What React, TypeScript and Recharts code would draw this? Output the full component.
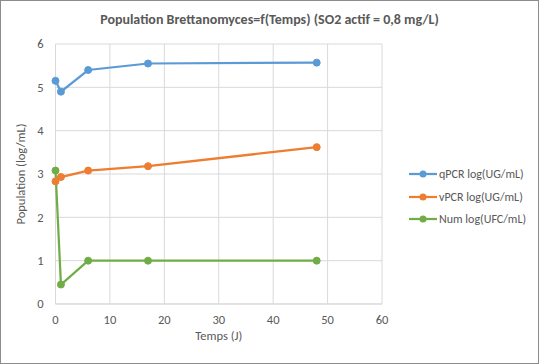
import { LineChart, Line, XAxis, YAxis, CartesianGrid } from 'recharts';

const FONT = "Calibri, Carlito, 'Open Sans', sans-serif";
const TEXT = '#595959';

const temps = [0, 1, 6, 17, 48];
const qpcr = [5.15, 4.9, 5.4, 5.55, 5.57];
const vpcr = [2.83, 2.93, 3.08, 3.18, 3.62];
const num = [3.08, 0.45, 1.0, 1.0, 1.0];

const xTicks = [0, 10, 20, 30, 40, 50, 60];
const yTicks = [0, 1, 2, 3, 4, 5, 6];

const series = [
  { name: 'qPCR log(UG/mL)', color: '#5B9BD5', values: qpcr },
  { name: 'vPCR log(UG/mL)', color: '#ED7D31', values: vpcr },
  { name: 'Num log(UFC/mL)', color: '#70AD47', values: num },
];

const toPoints = (values: number[]) => temps.map((t, i) => ({ x: t, y: values[i] }));

function LegendBox() {
  return (
    <div style={{ position: 'absolute', left: 408, top: 162, fontFamily: FONT, fontSize: 12, color: TEXT }}>
      {series.map(s => (
        <div key={s.name} style={{ display: 'flex', alignItems: 'center', height: 22.5 }}>
          <svg width={30} height={10}>
            <line x1={0} y1={5} x2={28} y2={5} stroke={s.color} strokeWidth={2.25} />
            <circle cx={14} cy={5} r={3.5} fill={s.color} />
          </svg>
          <span>{s.name}</span>
        </div>
      ))}
    </div>
  );
}

export default function App() {
  return (
    <div style={{ position: 'absolute', left: 0, top: 0, width: 539, height: 364, boxSizing: 'border-box', border: '1px solid #8c8c8c', background: '#fff' }}>
      <div style={{ position: 'absolute', top: 10, width: '100%', textAlign: 'center', fontFamily: FONT, fontSize: 14, fontWeight: 'bold', color: TEXT }}>
        Population Brettanomyces=f(Temps) (SO2 actif = 0,8 mg/L)
      </div>
      <LineChart width={537} height={362} margin={{ top: 43, right: 156, left: 9.5, bottom: 9 }}>
        <CartesianGrid stroke="#D9D9D9" />
        <XAxis
          type="number"
          dataKey="x"
          domain={[0, 60]}
          ticks={xTicks}
          tickLine={false}
          axisLine={{ stroke: '#D9D9D9' }}
          tick={{ fill: TEXT, fontSize: 12.5, fontFamily: FONT }}
          tickMargin={5}
          height={50}
          label={{ value: 'Temps (J)', position: 'insideBottom', offset: 14, fill: TEXT, fontSize: 12.5, fontFamily: FONT }}
        />
        <YAxis
          type="number"
          domain={[0, 6]}
          ticks={yTicks}
          tickLine={false}
          axisLine={false}
          tick={{ fill: TEXT, fontSize: 12.5, fontFamily: FONT }}
          tickMargin={6}
          width={45}
          label={{ value: 'Population (log/mL)', angle: -90, position: 'insideLeft', offset: 10, fill: TEXT, fontSize: 12.5, fontFamily: FONT, style: { textAnchor: 'middle' } }}
        />
        {series.map(s => (
          <Line
            key={s.name}
            data={toPoints(s.values)}
            dataKey="y"
            name={s.name}
            type="linear"
            stroke={s.color}
            strokeWidth={2.25}
            dot={{ r: 3.5, fill: s.color, stroke: s.color, strokeWidth: 1 }}
            isAnimationActive={false}
          />
        ))}
      </LineChart>
      <LegendBox />
    </div>
  );
}
